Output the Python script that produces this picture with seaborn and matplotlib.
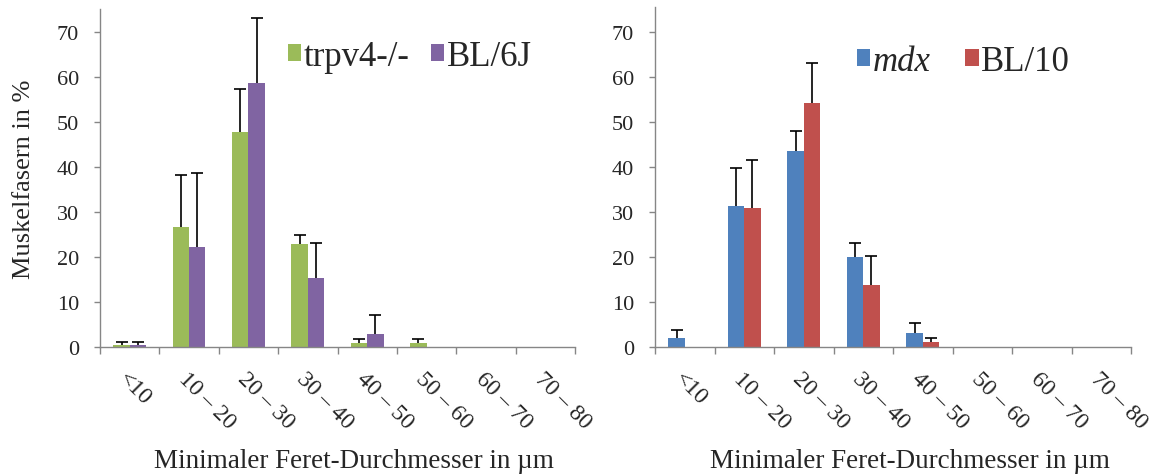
import numpy as np
import pandas as pd
import matplotlib
matplotlib.use("Agg")
import matplotlib.pyplot as plt
import seaborn as sns

categories = ["<10", "10 – 20", "20 – 30", "30 – 40", "40 – 50", "50 – 60", "60 – 70", "70 – 80"]

trpv4 = [0.5, 26.6, 47.7, 22.8, 0.9, 0.9, 0, 0]
trpv4_err = [0.6, 11.6, 9.7, 2.0, 0.8, 0.8, 0, 0]
bl6j = [0.5, 22.2, 58.6, 15.3, 2.8, 0, 0, 0]
bl6j_err = [0.6, 16.5, 14.4, 7.8, 4.4, 0, 0, 0]

mdx = [2.1, 31.2, 43.6, 20.0, 3.2, 0, 0, 0]
mdx_err = [1.6, 8.5, 4.3, 3.2, 2.2, 0, 0, 0]
bl10 = [0, 30.9, 54.2, 13.8, 1.1, 0, 0, 0]
bl10_err = [0, 10.6, 8.9, 6.3, 1.0, 0, 0, 0]

yticks = [0, 10, 20, 30, 40, 50, 60, 70]

sns.set_style("white")
plt.rcParams["font.family"] = ["Liberation Serif", "DejaVu Serif"]

W, H = 1167, 477
fig = plt.figure(figsize=(W / 100, H / 100), dpi=100)
ax1 = fig.add_axes([100 / W, 1 - 348 / H, (575 - 100) / W, (348 - 10) / H])
ax2 = fig.add_axes([655 / W, 1 - 348 / H, (1131 - 655) / W, (348 - 8) / H])

GRAY = "#868686"


def panel(ax, names, vals, errs, colors, ylabel, ytop, leg_xy, colspace,
          xlab_y, italic_first=False):
    rows = []
    for name, v in zip(names, vals):
        for c, val in zip(categories, v):
            rows.append({"cat": c, "group": name, "val": val})
    df = pd.DataFrame(rows)
    sns.barplot(data=df, x="cat", y="val", hue="group", order=categories,
                hue_order=names, palette=colors, width=0.55, errorbar=None,
                saturation=1, ax=ax, linewidth=0)
    for cont, e in zip(ax.containers, errs):
        xs = [p.get_x() + p.get_width() / 2 for p in cont.patches]
        hs = [p.get_height() for p in cont.patches]
        sel = [i for i, err in enumerate(e) if err > 0]
        xs_f = [xs[i] for i in sel]
        hs_f = [hs[i] for i in sel]
        es_f = [e[i] for i in sel]
        _, caps, _ = ax.errorbar(xs_f, hs_f, yerr=[np.zeros(len(es_f)), es_f],
                                 fmt="none", ecolor="black", elinewidth=1.2,
                                 capsize=4, capthick=1.2)
        caps[0].set_visible(False)
    ax.set_xlim(-0.5, len(categories) - 0.5)
    ax.set_ylim(0, ytop)
    ax.set_yticks(yticks)
    ax.set_yticklabels([str(t) for t in yticks], fontsize=16)
    ax.set_xticks(range(len(categories)))
    ax.set_xticklabels(categories, rotation=-45, ha="left", va="top",
                       rotation_mode="anchor", fontsize=17)
    ax.set_xticks(np.arange(-0.5, len(categories), 1.0), minor=True)
    ax.tick_params(axis="x", which="major", length=0, pad=15)
    ax.tick_params(axis="x", which="minor", length=5, width=1, color=GRAY,
                   direction="out", bottom=True)
    ax.tick_params(axis="y", length=4, width=1, color=GRAY, direction="out",
                   left=True, pad=11)
    for s in ["top", "right"]:
        ax.spines[s].set_visible(False)
    for s in ["left", "bottom"]:
        ax.spines[s].set_color(GRAY)
        ax.spines[s].set_linewidth(1)
    ax.set_xlabel("Minimaler Feret-Durchmesser in µm", fontsize=19.5,
                  va="center")
    ax.xaxis.set_label_coords(0.535, xlab_y)
    if ylabel:
        ax.set_ylabel(ylabel, fontsize=19, va="center")
        ax.yaxis.set_label_coords(-0.16, 0.5)
    else:
        ax.set_ylabel("")
    leg = ax.legend(loc="center left", bbox_to_anchor=leg_xy, ncol=2,
                    frameon=False, fontsize=25, handlelength=0.38,
                    handleheight=0.38, handletextpad=0.08,
                    columnspacing=colspace, borderaxespad=0, borderpad=0)
    if italic_first:
        leg.get_texts()[0].set_style("italic")
    return ax


panel(ax1, ["trpv4-/-", "BL/6J"], [trpv4, bl6j], [trpv4_err, bl6j_err],
      ["#9BBB59", "#8064A2"], "Muskelfasern in %", 75.1, (0.396, 0.86), 0.6,
      -0.335)
panel(ax2, ["mdx", "BL/10"], [mdx, bl10], [mdx_err, bl10_err],
      ["#4F81BD", "#C0504D"], "", 75.5, (0.424, 0.84), 1.0, -0.333,
      italic_first=True)

fig.savefig("out.png", dpi=100, facecolor="white")
